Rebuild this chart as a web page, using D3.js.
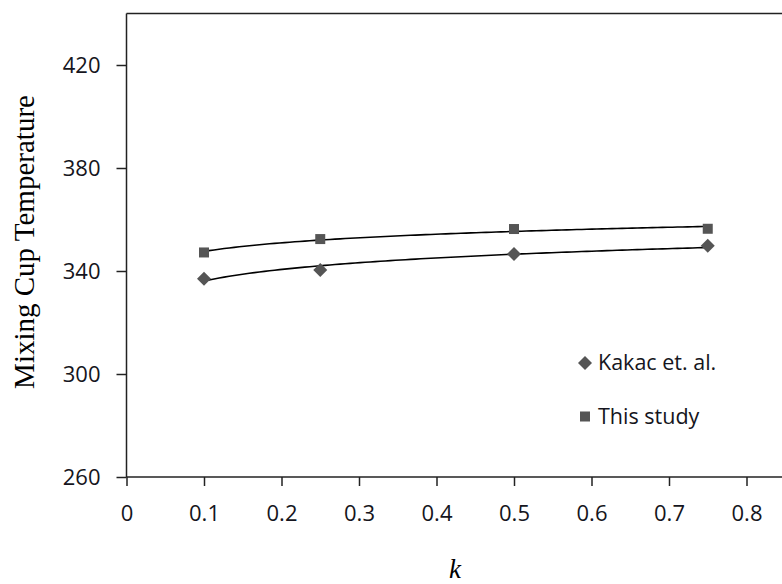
<!DOCTYPE html>
<html><head><meta charset="utf-8">
<script src="https://cdn.jsdelivr.net/npm/d3@7"></script>
<style>body{margin:0;background:#fff}svg{display:block}</style>
</head><body>
<svg id="c" width="782" height="584"></svg>
<script>
const kValues = [0.1, 0.25, 0.5, 0.75];
const kakac = [337.0, 340.4, 346.6, 349.8];
const thisStudy = [347.2, 352.4, 356.3, 356.4];
const xTicks = [0, 0.1, 0.2, 0.3, 0.4, 0.5, 0.6, 0.7, 0.8];
const yTicks = [260, 300, 340, 380, 420];
const seriesNames = ["Kakac et. al.", "This study"];

const svg = d3.select("#c");
const x = d3.scaleLinear().domain([0, 0.9]).range([126.5, 824]);
const y = d3.scaleLinear().domain([260, 440]).range([477, 13.5]);
const axisColor = "#222";
const mcol = "#555";
const sans = "'Open Sans', 'Liberation Sans', sans-serif";
const serif = "'Liberation Serif', 'Times New Roman', serif";

// top border
svg.append("line").attr("x1", x(0)).attr("x2", 782).attr("y1", y(440)).attr("y2", y(440))
  .attr("stroke", axisColor).attr("stroke-width", 1.5);

const xa = svg.append("g").attr("transform", `translate(0,${y(260)})`)
  .call(d3.axisBottom(x).tickValues(xTicks).tickSize(9).tickPadding(19).tickFormat(d => d3.format("")(d)));
const ya = svg.append("g").attr("transform", `translate(${x(0)},0)`)
  .call(d3.axisLeft(y).tickValues(yTicks).tickSize(10).tickPadding(16));
[xa, ya].forEach(g => {
  g.select(".domain").attr("stroke", axisColor).attr("stroke-width", 1.5);
  g.selectAll(".tick line").attr("stroke", axisColor).attr("stroke-width", 1.5);
  g.selectAll(".tick text").attr("font-family", sans)
    .attr("font-size", 22).attr("fill", "#151520");
});
xa.select(".domain").attr("d", `M${x(0)},0H900`);
ya.select(".domain").attr("d", `M0,${y(260)}V${y(440)}`);

// logarithmic trendline (Excel-style) fitted from the data
function logFit(xs, ys) {
  const lx = xs.map(Math.log);
  const mx = d3.mean(lx), my = d3.mean(ys);
  const a = d3.sum(lx.map((v, i) => (v - mx) * (ys[i] - my))) / d3.sum(lx.map(v => (v - mx) ** 2));
  const b = my - a * mx;
  return t => a * Math.log(t) + b;
}
const series = [kakac, thisStudy];
const line = d3.line().x(d => x(d[0])).y(d => y(d[1]));
series.forEach(vals => {
  const f = logFit(kValues, vals);
  const pts = d3.range(0, 101).map(i => {
    const t = kValues[0] + (kValues[kValues.length - 1] - kValues[0]) * i / 100;
    return [t, f(t)];
  });
  svg.append("path").attr("d", line(pts)).attr("fill", "none").attr("stroke", "#000").attr("stroke-width", 1.6);
});

function drawDiamond(cx, cy) {
  const s = 7;
  svg.append("path").attr("d", `M${cx},${cy - s}L${cx + s},${cy}L${cx},${cy + s}L${cx - s},${cy}Z`).attr("fill", mcol);
}
function drawSquare(cx, cy) {
  svg.append("rect").attr("x", cx - 5).attr("y", cy - 5).attr("width", 10).attr("height", 10).attr("fill", mcol);
}
kValues.forEach((k, i) => drawDiamond(x(k), y(kakac[i])));
kValues.forEach((k, i) => drawSquare(x(k), y(thisStudy[i])));

// legend
drawDiamond(585, 363);
drawSquare(585, 416.5);
const lg = [[seriesNames[0], 370], [seriesNames[1], 423.5]];
lg.forEach(([t, yy]) => svg.append("text").attr("x", 598).attr("y", yy).text(t)
  .attr("font-family", sans).attr("font-size", 21.5).attr("fill", "#151520"));

// axis titles
svg.append("text").attr("transform", "translate(34,242) rotate(-90)").attr("text-anchor", "middle")
  .attr("font-family", serif).attr("font-size", 29).attr("fill", "#000")
  .text("Mixing Cup Temperature");
svg.append("text").attr("x", 455).attr("y", 578).attr("text-anchor", "middle")
  .attr("font-family", serif).attr("font-style", "italic")
  .attr("font-size", 27).attr("fill", "#000").text("k");
</script>
</body></html>
